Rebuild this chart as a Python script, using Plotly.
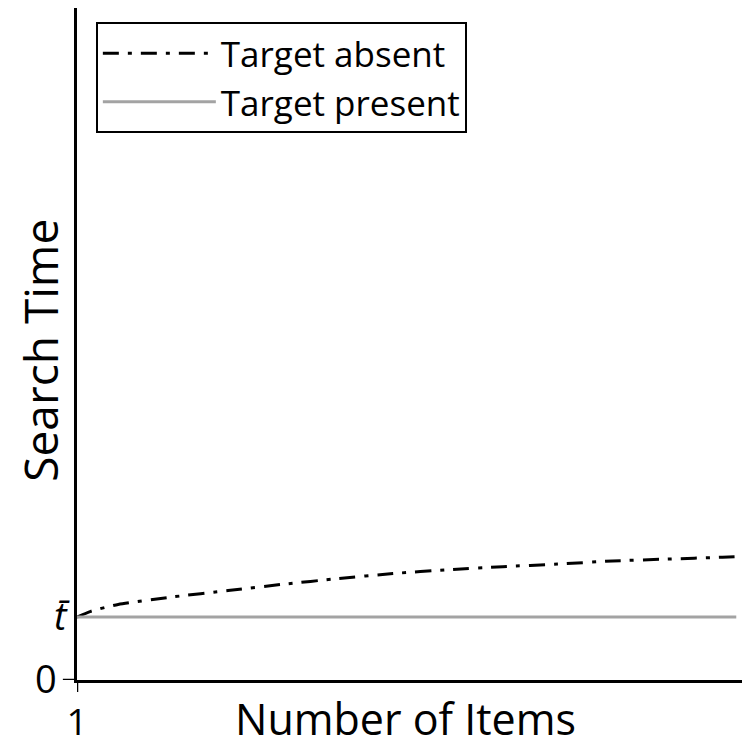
import plotly.graph_objects as go

items = [1, 2, 4, 8, 12, 16, 20, 24, 28, 32, 36, 40, 44, 48, 49]
target_absent = [1.0, 1.09, 1.20, 1.32, 1.42, 1.52, 1.61, 1.69, 1.75, 1.80, 1.84, 1.89, 1.92, 1.95, 1.96]
target_present = [1.0] * len(items)

y_tickvals = [0, 1]
y_ticktext = ["0\u00a0", "<i>t\u0304</i>"]
x_tickvals = [1]
x_ticktext = ["1"]

FONT = "Open Sans"

fig = go.Figure()
fig.add_trace(go.Scatter(x=items, y=target_absent, mode="lines", name="Target absent",
                         line=dict(color="black", width=3, dash="16px,9px,4px,9px",
                                   shape="spline", smoothing=0.6)))
fig.add_trace(go.Scatter(x=items, y=target_present, mode="lines", name="Target present",
                         line=dict(color="#a3a3a3", width=3)))

# page body has an 8px default margin, so the figure is sized 8px smaller
fig.update_layout(
    width=742, height=740,
    margin=dict(l=69, r=0, t=0, b=68),
    paper_bgcolor="white", plot_bgcolor="white",
    font=dict(family=FONT, color="black"),
    showlegend=True,
    legend=dict(x=0.028, y=0.979, xanchor="left", yanchor="top",
                bordercolor="black", borderwidth=2, bgcolor="white",
                font=dict(size=35, family=FONT), itemwidth=113,
                tracegroupgap=0),
    xaxis=dict(range=[1, 50], showline=True, linecolor="black", linewidth=2.5,
               showgrid=False, zeroline=False, tickvals=x_tickvals, ticktext=x_ticktext,
               ticks="", tickfont=dict(size=37, family=FONT), automargin=False,
               ticklabelstandoff=8),
    yaxis=dict(range=[0, 10.67], showline=True, linecolor="black", linewidth=2.5,
               showgrid=False, zeroline=False, tickvals=y_tickvals, ticktext=y_ticktext,
               ticks="", tickfont=dict(size=38, family=FONT), automargin=False),
    annotations=[
        dict(text="Number of Items", xref="paper", yref="paper", x=0.0, xshift=156, y=0, yshift=-38,
             xanchor="left", yanchor="middle", showarrow=False, font=dict(size=43, family=FONT)),
        dict(text="Search Time", xref="paper", yref="paper", x=0, xshift=-37, y=0.49,
             xanchor="center", yanchor="middle", textangle=-90, showarrow=False,
             font=dict(size=46, family=FONT)),
    ],
    shapes=[
        dict(type="line", xref="paper", yref="y", x0=-0.021, x1=0, y0=0, y1=0,
             line=dict(color="black", width=2.5)),
        dict(type="line", xref="x", yref="paper", x0=1, x1=1, y0=-0.018, y1=0,
             line=dict(color="black", width=2.5)),
    ],
)

fig.write_html("out.html", config={"displayModeBar": False})
